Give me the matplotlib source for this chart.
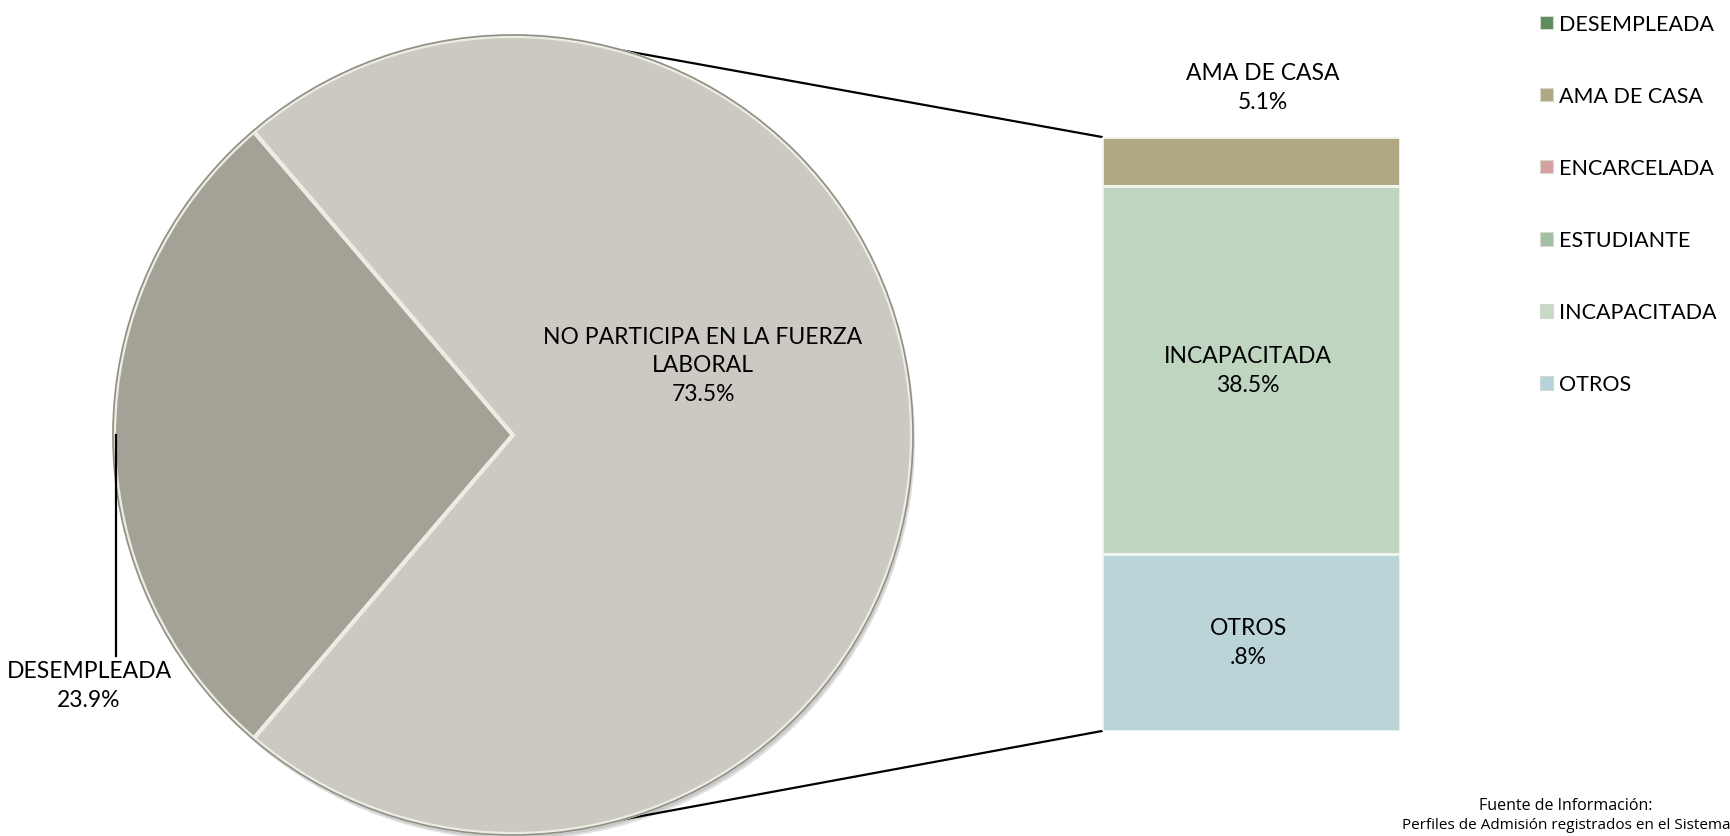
#!/usr/bin/env python3
# -*- coding: utf-8 -*-

"""
plot.py
Gráfico circular con barra de desglose (situación laboral).
"""

import numpy as np
import matplotlib
matplotlib.use("Agg")
import matplotlib.pyplot as plt
from matplotlib.patches import Circle, Patch, ConnectionPatch
import matplotlib.patheffects as pe

# ---- Datos ----
pie_labels = ["DESEMPLEADA", "NO PARTICIPA EN LA FUERZA\nLABORAL"]
pie_values = [27.5, 72.5]          # tamaño angular de cada sector
pie_texts = ["23.9%", "73.5%"]      # texto de las etiquetas
pie_colors = ["#a4a296", "#cbc9c1"]

bar_labels = ["AMA DE CASA", "ENCARCELADA", "ESTUDIANTE", "INCAPACITADA", "OTROS"]
bar_values = [8.3, 0.0, 0.0, 61.9, 29.8]   # alto de cada tramo de la barra
bar_texts = ["5.1%", "", "", "38.5%", ".8%"]
bar_colors = ["#b0a882", "#d4a3a3", "#a9c3a9", "#c0d5c0", "#bbd4d8"]

legend_labels = ["DESEMPLEADA", "AMA DE CASA", "ENCARCELADA",
                 "ESTUDIANTE", "INCAPACITADA", "OTROS"]
legend_colors = ["#5f8c5f", "#b0a882", "#d4a0a0", "#a3bfa3", "#c6dac6", "#b6d2da"]

W, H = 1730, 837
FONT = "Lato"
FS = 16.5
LS = 1.47

fig = plt.figure(figsize=(W / 100, H / 100), dpi=100)
ax = fig.add_axes([0, 0, 1, 1])

# ---- Pastel ----
cx, cy, r = 513, 401, 399
start = 180 - 360 * pie_values[0] / sum(pie_values) / 2

# sombra suave
for k, a in enumerate([0.10, 0.10, 0.12]):
    ax.add_patch(Circle((cx + 1 + k, cy - 2 - 2 * k), r, color="black",
                        alpha=a, zorder=1, lw=0))

wedges, _ = ax.pie(pie_values, colors=pie_colors, startangle=start,
                   counterclock=True, center=(cx, cy), radius=r,
                   wedgeprops=dict(edgecolor="#ecece2", linewidth=3),
                   frame=True)
for w in wedges:
    w.set_zorder(2)
ax.add_patch(Circle((cx, cy), r + 1, fill=False, edgecolor="#8f8f86",
                    lw=1.2, zorder=3))

ax.set_xlim(0, W)
ax.set_ylim(0, H)
ax.set_aspect("equal")
ax.axis("off")

# etiquetas del pastel
ax.text(703, H - 366, pie_labels[1] + "\n" + pie_texts[1], ha="center",
        va="center", fontsize=FS, family=FONT, linespacing=LS, zorder=5)
ax.text(89, H - 686, pie_labels[0] + "\n" + pie_texts[0], ha="center",
        va="center", fontsize=FS, family=FONT, linespacing=LS, zorder=5)
ax.plot([cx - r + 2, cx - r + 2], [cy, H - 657], color="black", lw=1.6,
        zorder=4)

# ---- Barra de desglose ----
bx = fig.add_axes([1102 / W, 105 / H, 298 / W, 594 / H])
total = sum(bar_values)
bottom = total
for lab, val, txt, col in zip(bar_labels, bar_values, bar_texts, bar_colors):
    bottom -= val
    if val <= 0:
        continue
    bx.bar(0, val, bottom=bottom, width=1.0, color=col,
           edgecolor="#f3f6ee", linewidth=2,
           path_effects=[pe.withSimplePatchShadow(offset=(2, -2),
                                                  alpha=0.35)])
    if lab == "AMA DE CASA":
        bx.text(0.04, total + 8.4, lab + "\n" + txt, ha="center",
                va="center", fontsize=FS, family=FONT, linespacing=LS,
                clip_on=False)
    else:
        bx.text(-0.01, bottom + val / 2, lab + "\n" + txt, ha="center",
                va="center", fontsize=FS, family=FONT, linespacing=LS)
bx.set_xlim(-0.5, 0.5)
bx.set_ylim(0, total)
bx.axis("off")

# líneas de conexión
for ang, yb in [(75.5, total), (-75.5, 0)]:
    px = cx + r * np.cos(np.radians(ang))
    py = cy + r * np.sin(np.radians(ang))
    con = ConnectionPatch(xyA=(px, py), coordsA=ax.transData,
                          xyB=(-0.5, yb), coordsB=bx.transData,
                          color="black", lw=1.6, zorder=0)
    fig.add_artist(con)

# ---- Leyenda ----
handles = [Patch(facecolor=c, edgecolor="#d8d8d0", linewidth=0.8)
           for c in legend_colors]
fig.legend(handles, legend_labels, loc="upper left",
           bbox_to_anchor=(1540 / W, (H - 15) / H), frameon=False,
           prop={"family": FONT, "size": 15.5}, handlelength=0.6,
           handleheight=0.6, handletextpad=0.3, labelspacing=2.42,
           borderpad=0, borderaxespad=0)

# ---- Fuente ----
fig.text(1566 / W, (H - 806) / H, "Fuente de Información:", ha="center",
         va="center", fontsize=11.5, family="Open Sans")
fig.text(1566 / W, (H - 826) / H,
         "Perfiles de Admisión registrados en el Sistema", ha="center",
         va="center", fontsize=11, family="Open Sans")

fig.savefig("out.png", dpi=100, facecolor="white")
